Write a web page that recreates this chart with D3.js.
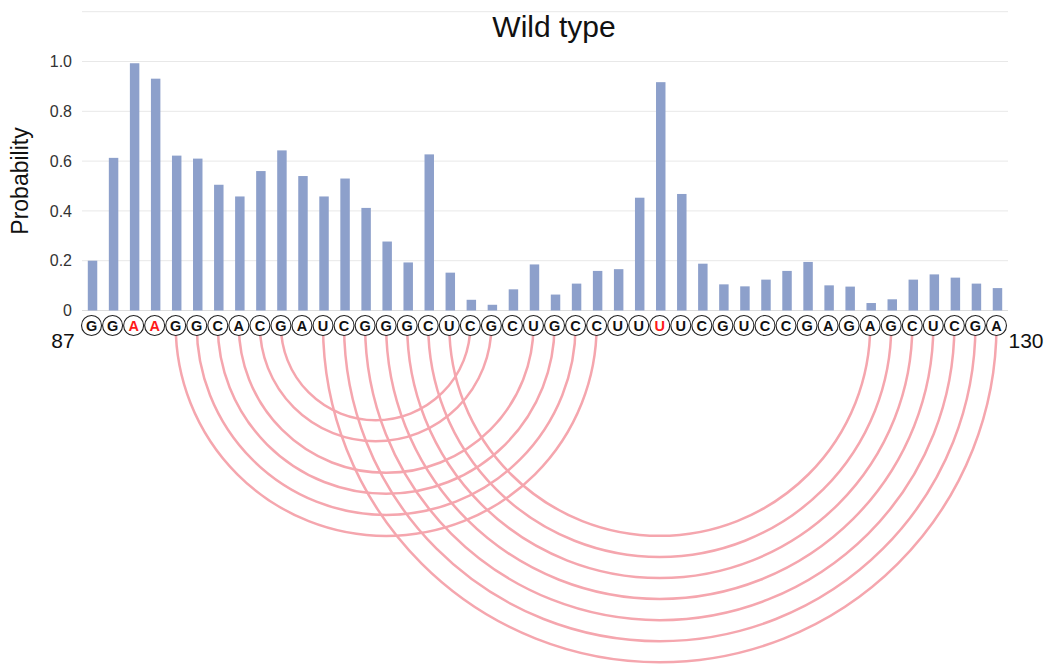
<!DOCTYPE html>
<html>
<head>
<meta charset="utf-8">
<script src="https://cdn.jsdelivr.net/npm/d3@7"></script>
<style>
  html, body { margin: 0; padding: 0; background: #fff; }
  svg { display: block; font-family: "Liberation Sans", Arial, sans-serif; }
</style>
</head>
<body>
<svg id="chart" width="1045" height="667"></svg>
<script>
// Nucleotides 87–130 of the wild-type sequence
const firstPosition = 87;
const sequence = ["G","G","A","A","G","G","C","A","C","G","A","U","C","G","G","G","C","U","C","G","C","U",
                  "G","C","C","U","U","U","U","C","G","U","C","C","G","A","G","A","G","C","U","C","G","A"];
// Per-nucleotide probability
const probability = [0.20, 0.613, 0.993, 0.931, 0.622, 0.61, 0.505, 0.458, 0.56, 0.643,
                     0.54, 0.458, 0.53, 0.412, 0.277, 0.193, 0.627, 0.152, 0.043, 0.023,
                     0.085, 0.185, 0.064, 0.108, 0.159, 0.166, 0.453, 0.917, 0.468, 0.188,
                     0.105, 0.097, 0.124, 0.159, 0.195, 0.101, 0.096, 0.03, 0.045, 0.124,
                     0.145, 0.132, 0.108, 0.09];
// Positions shown in red
const highlighted = [89, 90, 114];
// Base pairs (position i, position j)
const basePairs = [[91,111],[92,110],[93,109],[94,108],[95,106],[96,105],
                   [98,130],[99,129],[100,128],[101,127],[102,126],[103,125],[104,124]];
const gridValues = [0, 0.2, 0.4, 0.6, 0.8, 1.0, 1.2];
const tickValues = [0, 0.2, 0.4, 0.6, 0.8, 1.0];
const tickLabels = ["0", "0.2", "0.4", "0.6", "0.8", "1.0"];

const positions = sequence.map((_, i) => firstPosition + i);
const lastPosition = positions[positions.length - 1];

const svg = d3.select("#chart");
const left = 82, right = 1008, baseY = 310.5, topY = 11.7;
const ringY = 325.5, ringR = 10;

const x = d3.scaleBand().domain(positions).range([left, right]).paddingInner(0.55).paddingOuter(0.275);
const y = d3.scaleLinear().domain([0, 1.2]).range([baseY, topY]);
const cx = p => x(p) + x.bandwidth() / 2;

// Horizontal grid lines
svg.append("g").selectAll("line").data(gridValues).join("line")
  .attr("x1", left).attr("x2", right)
  .attr("y1", d => y(d)).attr("y2", d => y(d))
  .attr("stroke", d => d === 0 ? "#dcdcdc" : "#e8e8e8").attr("stroke-width", 1);

// Y axis labels
const yAxis = d3.axisLeft(y).tickValues(tickValues).tickSize(0).tickPadding(10)
  .tickFormat((d, i) => tickLabels[i]);
const gy = svg.append("g").attr("transform", `translate(${left},0)`).call(yAxis);
gy.select(".domain").remove();
gy.selectAll("text").attr("font-size", 16).attr("fill", "#333")
  .attr("font-family", "Liberation Sans, Arial, sans-serif");

// Axis title
svg.append("text")
  .attr("transform", "translate(28,181) rotate(-90)")
  .attr("text-anchor", "middle")
  .attr("font-size", 23).attr("fill", "#111")
  .text("Probability");

// Chart title
svg.append("text")
  .attr("x", 554).attr("y", 37)
  .attr("text-anchor", "middle")
  .attr("font-size", 30).attr("fill", "#111")
  .text("Wild type");

// Bars
svg.append("g").selectAll("rect").data(positions).join("rect")
  .attr("x", p => x(p))
  .attr("width", x.bandwidth())
  .attr("y", (p, i) => y(probability[i]))
  .attr("height", (p, i) => baseY - y(probability[i]))
  .attr("fill", "#8da0cb");

// Base-pair arcs (lower semicircles)
svg.append("g").selectAll("path").data(basePairs).join("path")
  .attr("d", ([a, b]) => {
    const x1 = cx(a) - 1, x2 = cx(b) - 1, r = (x2 - x1) / 2;
    return `M${x1},${ringY} A${r},${r} 0 0 0 ${x2},${ringY}`;
  })
  .attr("fill", "none")
  .attr("stroke", "#f5a6ae")
  .attr("stroke-width", 2.5);

// Nucleotide rings
const nt = svg.append("g").selectAll("g").data(positions).join("g")
  .attr("transform", p => `translate(${cx(p) - 1},${ringY})`);
nt.append("circle").attr("r", ringR)
  .attr("fill", "#fff").attr("stroke", "#222").attr("stroke-width", 1.1);
nt.append("text")
  .attr("text-anchor", "middle").attr("dy", "0.36em")
  .attr("font-size", 14.5).attr("font-weight", "bold")
  .attr("fill", p => highlighted.includes(p) ? "#ff1a1a" : "#111")
  .text((p, i) => sequence[i]);

// Start / end position numbers
svg.append("text").attr("x", 63).attr("y", 348).attr("text-anchor", "middle")
  .attr("font-size", 21).attr("fill", "#111").text(firstPosition);
svg.append("text").attr("x", 1026).attr("y", 348).attr("text-anchor", "middle")
  .attr("font-size", 21).attr("fill", "#111").text(lastPosition);
</script>
</body>
</html>
